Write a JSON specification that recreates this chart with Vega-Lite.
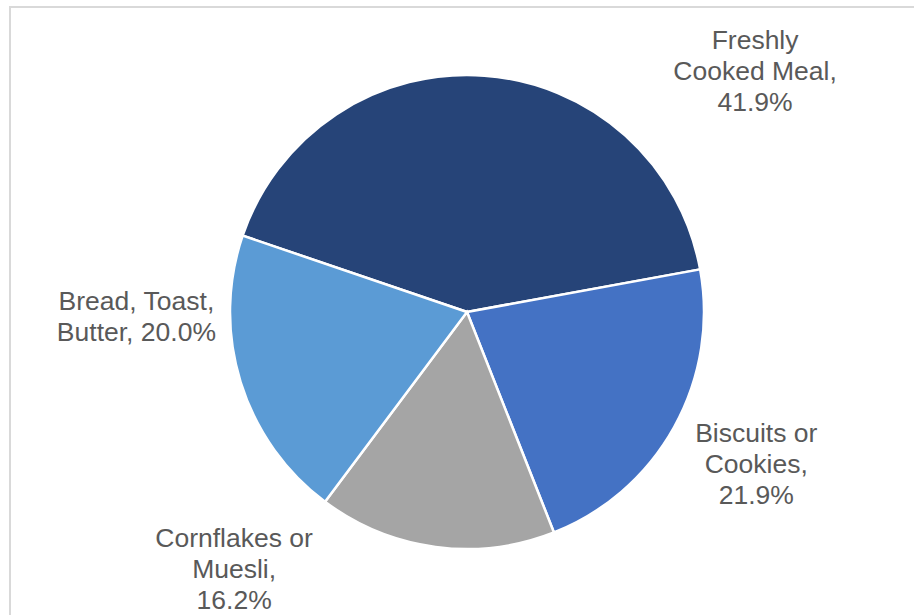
{
  "$schema": "https://vega.github.io/schema/vega-lite/v6.json",
  "width": 914,
  "height": 610,
  "autosize": "none",
  "padding": {"left": 10, "top": 7, "right": 0, "bottom": 0},
  "background": "white",
  "config": {"view": {"stroke": null}},
  "data": {
    "values": [
      {"category": "Freshly Cooked Meal", "value": 41.9, "label": ["Freshly", "Cooked Meal,", "41.9%"]},
      {"category": "Biscuits or Cookies", "value": 21.9, "label": ["Biscuits or", "Cookies,", "21.9%"]},
      {"category": "Cornflakes or Muesli", "value": 16.2, "label": ["Cornflakes or", "Muesli,", "16.2%"]},
      {"category": "Bread, Toast, Butter", "value": 20.0, "label": ["Bread, Toast,", "Butter, 20.0%"]}
    ]
  },
  "transform": [
    {"window": [{"op": "sum", "field": "value", "as": "v1"}], "frame": [null, 0]},
    {"calculate": "datum.v1 - datum.value", "as": "v0"},
    {"calculate": "(datum.v0 + datum.v1) / 2", "as": "mid"}
  ],
  "resolve": {"scale": {"theta": "shared"}},
  "layer": [
    {
      "data": {"values": [{"frame": 1}]},
      "mark": {"type": "rect", "fill": null, "stroke": "#d9d9d9", "strokeWidth": 2},
      "encoding": {}
    },
    {
      "mark": {"type": "arc", "stroke": "white", "strokeWidth": 2.5, "radius": 237},
      "encoding": {
        "theta": {"field": "v0", "type": "quantitative", "scale": {"domain": [0, 100], "range": [-1.2427, 5.0405]}},
        "theta2": {"field": "v1"},
        "color": {
          "field": "category",
          "type": "nominal",
          "legend": null,
          "scale": {
            "domain": ["Freshly Cooked Meal", "Biscuits or Cookies", "Cornflakes or Muesli", "Bread, Toast, Butter"],
            "range": ["#264478", "#4472C4", "#A5A5A5", "#5B9BD5"]
          }
        }
      }
    },
    {
      "transform": [{"filter": "datum.category === 'Freshly Cooked Meal'"}],
      "mark": {"type": "text", "radius": 300, "dx": 266, "dy": 28, "font": "Liberation Sans", "fontSize": 26.5, "lineHeight": 31, "color": "#595959", "align": "center", "baseline": "middle"},
      "encoding": {"theta": {"field": "mid", "type": "quantitative", "scale": {"domain": [0, 100], "range": [-1.2427, 5.0405]}}, "text": {"field": "label"}}
    },
    {
      "transform": [{"filter": "datum.category === 'Biscuits or Cookies'"}],
      "mark": {"type": "text", "radius": 300, "dx": 27, "dy": -24, "font": "Liberation Sans", "fontSize": 26.5, "lineHeight": 31, "color": "#595959", "align": "center", "baseline": "middle"},
      "encoding": {"theta": {"field": "mid", "type": "quantitative", "scale": {"domain": [0, 100], "range": [-1.2427, 5.0405]}}, "text": {"field": "label"}}
    },
    {
      "transform": [{"filter": "datum.category === 'Cornflakes or Muesli'"}],
      "mark": {"type": "text", "radius": 300, "dx": -193, "dy": -70, "font": "Liberation Sans", "fontSize": 26.5, "lineHeight": 31, "color": "#595959", "align": "center", "baseline": "middle"},
      "encoding": {"theta": {"field": "mid", "type": "quantitative", "scale": {"domain": [0, 100], "range": [-1.2427, 5.0405]}}, "text": {"field": "label"}}
    },
    {
      "transform": [{"filter": "datum.category === 'Bread, Toast, Butter'"}],
      "mark": {"type": "text", "radius": 300, "dx": -44, "dy": -99, "font": "Liberation Sans", "fontSize": 26.5, "lineHeight": 31, "color": "#595959", "align": "center", "baseline": "middle"},
      "encoding": {"theta": {"field": "mid", "type": "quantitative", "scale": {"domain": [0, 100], "range": [-1.2427, 5.0405]}}, "text": {"field": "label"}}
    }
  ]
}
